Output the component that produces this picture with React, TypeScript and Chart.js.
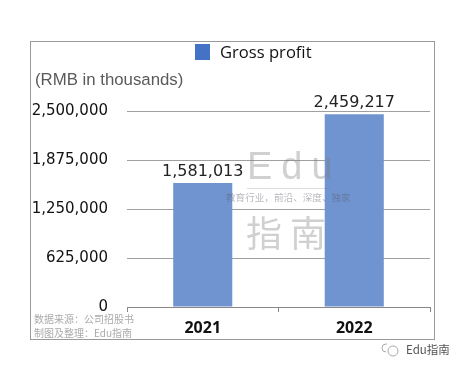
import React, { useEffect, useRef } from "react";
import { Chart, registerables } from "chart.js";

Chart.register(...registerables);

const categories = ["2021", "2022"];
const grossProfit = [1581013, 2459217];
const seriesLabel = "Gross profit";
const unitLabel = "(RMB in thousands)";
const yTicks = [0, 625000, 1250000, 1875000, 2500000];
const footnotes = ["数据来源：公司招股书", "制图及整理：Edu指南"];
const watermarkTop = "Edu";
const watermarkMid = "教育行业，前沿、深度、独家";
const watermarkBottom = "指南";
const brand = "Edu指南";

const fmt = (v: number) => v.toLocaleString("en-US");

export default function App() {
  const ref = useRef<HTMLCanvasElement | null>(null);

  useEffect(() => {
    if (!ref.current) return;
    const decor = {
      id: "decor",
      beforeDraw(chart: any) {
        const ctx = chart.ctx;
        ctx.save();
        ctx.fillStyle = "#fff";
        ctx.fillRect(0, 0, chart.width, chart.height);
        ctx.strokeStyle = "#9a9a9a";
        ctx.lineWidth = 1;
        ctx.strokeRect(30.5, 41.5, 404, 298);
        // legend
        ctx.fillStyle = "#4472c4";
        ctx.fillRect(195, 44, 15, 16);
        ctx.fillStyle = "#111";
        ctx.font = "16.6px 'Open Sans'";
        ctx.textBaseline = "middle";
        ctx.textAlign = "left";
        ctx.fillText(chart.data.datasets[0].label, 220, 53);
        // unit
        ctx.fillStyle = "#5a5a5a";
        ctx.font = "16.8px 'Liberation Sans'";
        ctx.fillText(unitLabel, 35, 80);
        // footnotes
        ctx.fillStyle = "#aaa";
        ctx.font = "10px 'Noto Sans CJK SC'";
        ctx.fillText(footnotes[0], 34, 319);
        ctx.fillText(footnotes[1], 34, 333);
        // brand
        ctx.fillStyle = "#555";
        ctx.font = "11.5px 'Noto Sans CJK SC'";
        ctx.fillText(brand, 406, 350);
        ctx.strokeStyle = "#aaa";
        ctx.beginPath();
        ctx.arc(393, 351, 5, 0, Math.PI * 2);
        ctx.stroke();
        ctx.beginPath();
        ctx.arc(386, 348, 4, Math.PI * 0.5, Math.PI * 1.6);
        ctx.stroke();
        ctx.restore();
      },
      afterDatasetsDraw(chart: any) {
        const ctx = chart.ctx;
        ctx.save();
        const meta = chart.getDatasetMeta(0);
        ctx.fillStyle = "#222";
        ctx.font = "16px 'DejaVu Sans'";
        ctx.textAlign = "center";
        ctx.textBaseline = "bottom";
        meta.data.forEach((bar: any, i: number) => {
          ctx.fillText(fmt(chart.data.datasets[0].data[i]), bar.x, bar.y - 3);
        });
        // watermark
        ctx.fillStyle = "rgba(120,120,120,0.35)";
        ctx.textAlign = "left";
        ctx.textBaseline = "alphabetic";
        ctx.font = "38px 'Liberation Sans'";
        (ctx as any).letterSpacing = "9px";
        ctx.fillText(watermarkTop, 247, 179);
        (ctx as any).letterSpacing = "0px";
        ctx.strokeStyle = "rgba(120,120,120,0.25)";
        ctx.beginPath();
        ctx.moveTo(247, 188.5);
        ctx.lineTo(330, 188.5);
        ctx.stroke();
        ctx.fillStyle = "rgba(90,90,110,0.45)";
        ctx.font = "9.6px 'Noto Sans CJK SC'";
        ctx.fillText(watermarkMid, 226, 201);
        ctx.fillStyle = "rgba(120,120,120,0.35)";
        ctx.font = "36px 'Noto Sans CJK SC'";
        (ctx as any).letterSpacing = "8px";
        ctx.fillText(watermarkBottom, 246, 247);
        (ctx as any).letterSpacing = "0px";
        ctx.restore();
      },
    };

    const chart = new Chart(ref.current, {
      type: "bar",
      data: {
        labels: categories,
        datasets: [
          {
            label: seriesLabel,
            data: grossProfit,
            backgroundColor: "#7094d0",
            borderWidth: 0,
            categoryPercentage: 0.78,
            barPercentage: 0.5,
          },
        ],
      },
      options: {
        responsive: false,
        animation: false,
        events: [],
        layout: { padding: { left: 0, right: 32, top: 111, bottom: 0 } },
        plugins: { legend: { display: false }, tooltip: { enabled: false } },
        scales: {
          x: {
            offset: true,
            grid: {
              offset: true,
              drawOnChartArea: false,
              drawTicks: true,
              tickLength: 5,
              color: "#888",
            },
            border: { color: "#888" },
            ticks: {
              color: "#111",
              font: { family: "'Noto Sans'", size: 16, weight: "bold" },
              padding: 7,
            },
            afterFit: (s: any) => {
              s.height = 63;
            },
          },
          y: {
            min: 0,
            max: 2500000,
            afterBuildTicks: (s: any) => {
              s.ticks = yTicks.map((v) => ({ value: v }));
            },
            grid: { color: "#a0a0a0", drawTicks: false },
            border: { display: false },
            ticks: {
              color: "#111",
              font: { family: "'DejaVu Sans'", size: 15 },
              padding: 19,
              callback: (v: any) => fmt(Number(v)),
            },
            afterFit: (s: any) => {
              s.width = 127;
            },
          },
        },
      },
      plugins: [decor],
    });
    return () => chart.destroy();
  }, []);

  return (
    <div style={{ position: "absolute", left: 0, top: 0, width: 462, height: 370 }}>
      <canvas ref={ref} width={462} height={370} style={{ display: "block" }} />
    </div>
  );
}
